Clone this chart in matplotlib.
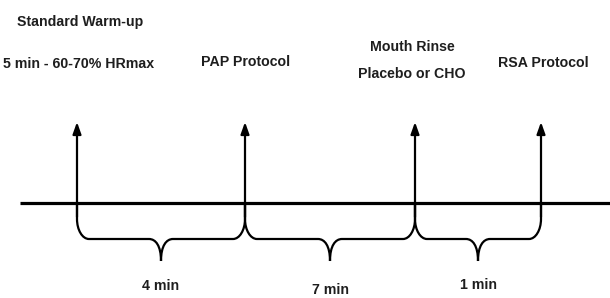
import matplotlib
matplotlib.use("Agg")
import matplotlib.pyplot as plt
from matplotlib.path import Path
from matplotlib.patches import PathPatch

plt.rcParams['font.family'] = ['Liberation Sans', 'DejaVu Sans']

# events along the timeline (schematic positions)
event_x = [77, 245, 415, 541]
# labels above the events
labels = ["Standard Warm-up", "5 min - 60-70% HRmax", "PAP Protocol",
          "Mouth Rinse", "Placebo or CHO", "RSA Protocol"]
label_x = [80, 79, 246, 412, 412, 543]
label_y = [22, 64, 62, 47, 74, 63]
# intervals between events
interval_labels = ["4 min", "7 min", "1 min"]
interval_label_y = [286, 290, 285]

fig = plt.figure(figsize=(6.1, 2.98), dpi=100)
ax = fig.add_axes([0, 0, 1, 1])
ax.set_xlim(0, 610)
ax.set_ylim(298, 0)
ax.axis("off")

line_y = 203
ax.plot([20, 610], [line_y, line_y], color="black", lw=2.3, solid_capstyle="butt")

for x in event_x:
    ax.annotate("", xy=(x, 122), xytext=(x, line_y + 14),
                arrowprops=dict(arrowstyle="-|>,head_length=0.7,head_width=0.25",
                                color="black", lw=1.6, shrinkA=0, shrinkB=0))

for lab, x, y in zip(labels, label_x, label_y):
    ax.text(x, y, lab, ha="center", va="center", fontsize=10.2,
            fontweight="bold", color="#1e1e1e")


def brace(x0, x1, ytop, ymid, ytip, r=12):
    xm = (x0 + x1) / 2
    k = 0.55
    rv = 20
    verts = [(x0, ytop), (x0, ymid - rv),
             (x0, ymid - rv + k * rv), (x0 + r - k * r, ymid), (x0 + r, ymid),
             (xm - 12, ymid),
             (xm - 12 + k * 12, ymid), (xm, ymid + (ytip - ymid) * 0.3), (xm, ytip),
             (xm, ymid + (ytip - ymid) * 0.3), (xm + 12 - k * 12, ymid), (xm + 12, ymid),
             (x1 - r, ymid),
             (x1 - r + k * r, ymid), (x1, ymid - rv + k * rv), (x1, ymid - rv),
             (x1, ytop)]
    codes = [Path.MOVETO, Path.LINETO,
             Path.CURVE4, Path.CURVE4, Path.CURVE4,
             Path.LINETO,
             Path.CURVE4, Path.CURVE4, Path.CURVE4,
             Path.CURVE4, Path.CURVE4, Path.CURVE4,
             Path.LINETO,
             Path.CURVE4, Path.CURVE4, Path.CURVE4,
             Path.LINETO]
    ax.add_patch(PathPatch(Path(verts, codes), fill=False, lw=1.6,
                           edgecolor="black", capstyle="butt"))
    return xm


for i, lab in enumerate(interval_labels):
    xm = brace(event_x[i], event_x[i + 1], line_y, 239, 261)
    ax.text(xm, interval_label_y[i], lab, ha="center", va="center",
            fontsize=10.2, fontweight="bold", color="#1e1e1e")

fig.savefig("out.png", dpi=100)
